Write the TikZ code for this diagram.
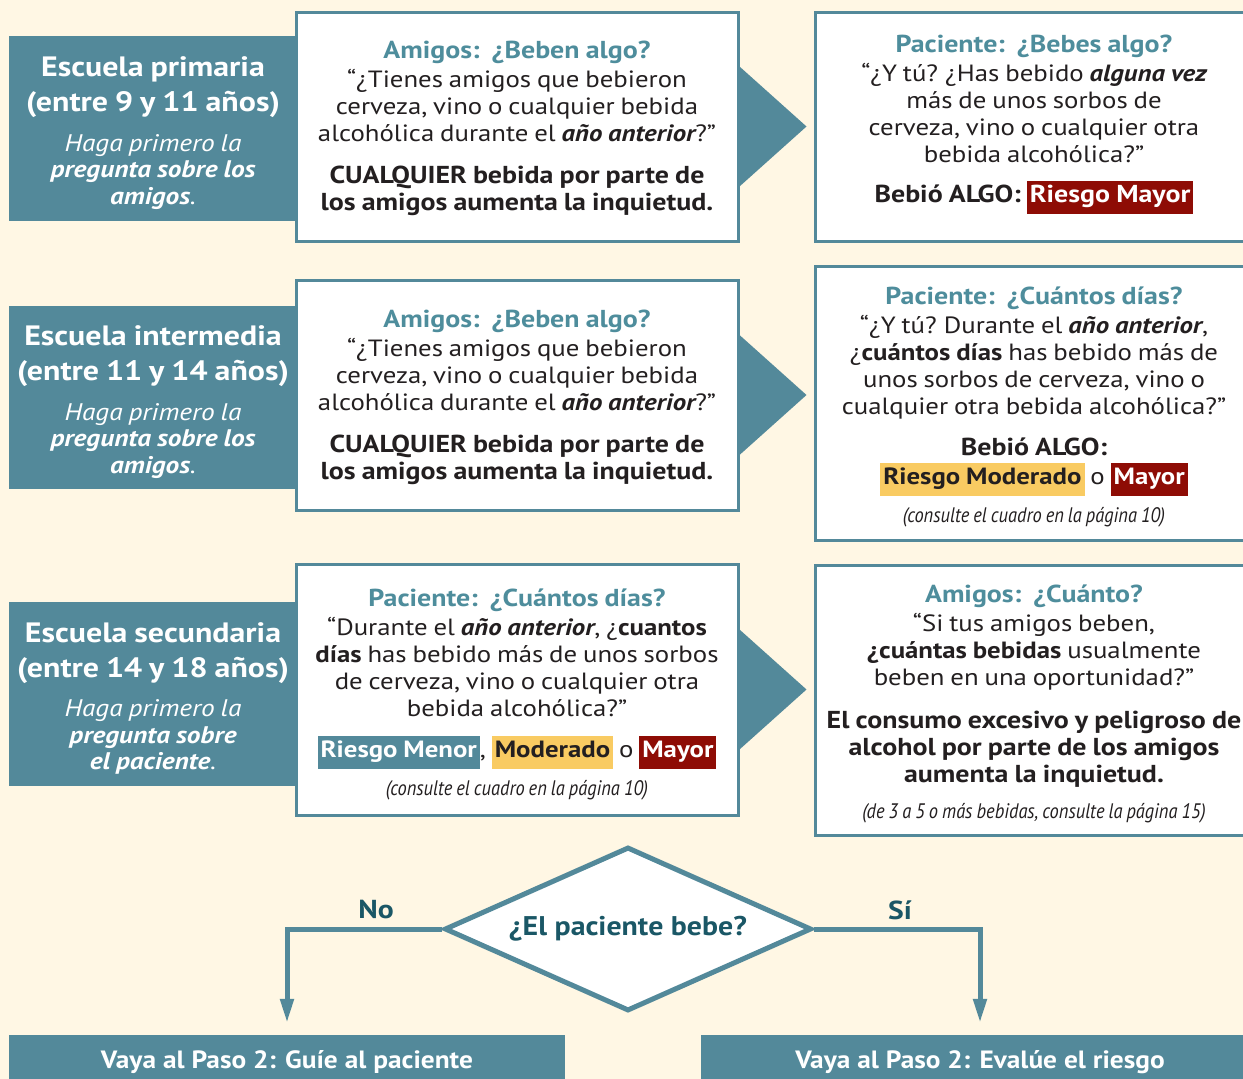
\documentclass[tikz,border=0pt]{standalone}
\usepackage{fontspec}
\setmainfont{PT Sans}[FakeStretch=1.14]
\usepackage{graphicx}
\usetikzlibrary{shapes.geometric,arrows.meta}
\definecolor{bgc}{RGB}{255,247,228}
\definecolor{tealc}{RGB}{83,137,154}
\definecolor{ttlc}{RGB}{78,141,156}
\definecolor{darkt}{RGB}{26,87,102}
\definecolor{redc}{RGB}{142,12,5}
\definecolor{yelc}{RGB}{249,203,98}
\definecolor{txtc}{RGB}{35,31,32}
\newcommand\sps{\spaceskip=0.25em\relax\xspaceskip=0.3em\relax}
\newcommand\hfnt{\fontsize{28}{35}\selectfont\bfseries\sps}
\newcommand\ifnt{\fontsize{24}{26.5}\selectfont\itshape\sps}
\newcommand\tfnt{\fontsize{24.5}{29}\selectfont\bfseries\color{ttlc}\sps}
\newcommand\bfnt{\fontsize{23.5}{27}\selectfont\sps}
\newcommand\bbfnt{\fontsize{24.5}{27}\selectfont\bfseries\sps}
\newcommand\bi[1]{{\bfseries\itshape #1}}
\newcommand\hlred[1]{{\setlength\fboxsep{3pt}\colorbox{redc}{\strut\textcolor{white}{\bfseries\sps #1}}}}
\newcommand\hlyel[1]{{\setlength\fboxsep{3pt}\colorbox{yelc}{\strut\textcolor{txtc}{\bfseries\sps #1}}}}
\newcommand\hlteal[1]{{\setlength\fboxsep{3pt}\colorbox{tealc}{\strut\textcolor{white}{\bfseries\sps #1}}}}
\newcommand\condit[1]{{\fontsize{21}{24}\selectfont\scalebox{0.77}[1]{\itshape\sps #1}\par}}
\tikzset{
  tealbox/.style={fill=tealc, draw=none, minimum width=288pt, inner sep=0pt},
  whitebox/.style={fill=white, draw=tealc, line width=3pt, minimum width=442pt, inner sep=0pt},
  rightbox/.style={fill=white, draw=tealc, line width=3pt, minimum width=438pt, inner sep=0pt},
  tealtext/.style={inner sep=0pt, text=white, text width=284pt, align=center},
  whitetext/.style={inner sep=0pt, text=txtc, text width=436pt, align=center},
  righttext/.style={inner sep=0pt, text=txtc, text width=430pt, align=center},
  pointer/.style={fill=tealc},
  conn/.style={draw=tealc, line width=5pt, -{Triangle[length=24pt,width=13pt]}},
  lbl/.style={text=darkt, font=\fontsize{26}{30}\selectfont\bfseries},
  endbox/.style={fill=tealc, draw=none, minimum height=54pt, inner sep=0pt, text=white, font=\fontsize{25}{30}\selectfont\bfseries}
}
\begin{document}
\begin{tikzpicture}[x=1pt,y=-1pt]
\useasboundingbox (0,0) rectangle (1243,1079);
\fill[bgc] (0,0) rectangle (1243,1079);
\clip (0,0) rectangle (1243,1079);

% Boxes
\node[tealbox, minimum height=185pt] (t1) at (153,128.5) {};
\node[whitebox, minimum height=229pt] (w1) at (517,126.5) {};
\node[rightbox, minimum height=229pt] (r1) at (1034,126.5) {};
\node[tealbox, minimum height=183pt] (t2) at (153,397.5) {};
\node[whitebox, minimum height=230pt] (w2) at (517,395) {};
\node[rightbox, minimum height=274pt] (r2) at (1034,403) {};
\node[tealbox, minimum height=184pt] (t3) at (153,694) {};
\node[whitebox, minimum height=251pt] (w3) at (517,689.5) {};
\node[rightbox, minimum height=270pt] (r3) at (1034,700) {};
\fill[pointer] ([yshift=60pt]w1.east) -- ([xshift=67pt]w1.east) -- ([yshift=-60pt]w1.east) -- cycle;
\fill[pointer] ([yshift=60pt]w2.east) -- ([xshift=67pt]w2.east) -- ([yshift=-60pt]w2.east) -- cycle;
\fill[pointer] ([yshift=60pt]w3.east) -- ([xshift=67pt]w3.east) -- ([yshift=-60pt]w3.east) -- cycle;

% Row 1 text
\node[tealtext] (t1x) at ([yshift=-4.5pt]t1.center) {{\hfnt Escuela primaria\\(entre 9 y 11 años)\par}\vspace{13pt}{\ifnt Haga primero la\\ \textbf{pregunta sobre los}\\ \textbf{amigos}.\par}};
\node[whitetext] (w1x) at ([yshift=-2pt]w1.center) {{\tfnt Amigos:\ \ ¿Beben algo?\par}\vspace{2pt}{\bfnt “¿Tienes amigos que bebieron\\ cerveza, vino o cualquier bebida\\ alcohólica durante el \bi{año anterior}?”\par}\vspace{15pt}{\bbfnt CUALQUIER bebida por parte de\\ los amigos aumenta la inquietud.\par}};
\node[righttext] (r1x) at ([yshift=2pt]r1.center) {{\tfnt Paciente:\ \ ¿Bebes algo?\par}\vspace{2pt}{\bfnt “¿Y tú? ¿Has bebido \bi{alguna vez}\\ más de unos sorbos de\\ cerveza, vino o cualquier otra\\ bebida alcohólica?”\par}\vspace{13pt}{\bbfnt Bebió ALGO: \hlred{Riesgo Mayor}\par}};

% Row 2 text
\node[tealtext] (t2x) at ([yshift=-4.5pt]t2.center) {{\hfnt Escuela intermedia\\(entre 11 y 14 años)\par}\vspace{13pt}{\ifnt Haga primero la\\ \textbf{pregunta sobre los}\\ \textbf{amigos}.\par}};
\node[whitetext] (w2x) at ([yshift=-2pt]w2.center) {{\tfnt Amigos:\ \ ¿Beben algo?\par}\vspace{2pt}{\bfnt “¿Tienes amigos que bebieron\\ cerveza, vino o cualquier bebida\\ alcohólica durante el \bi{año anterior}?”\par}\vspace{15pt}{\bbfnt CUALQUIER bebida por parte de\\ los amigos aumenta la inquietud.\par}};
\node[righttext] (r2x) at ([yshift=-4pt]r2.center) {{\tfnt Paciente:\ \ ¿Cuántos días?\par}\vspace{2pt}{\bfnt “¿Y tú? Durante el \bi{año anterior},\\ ¿\textbf{cuántos días} has bebido más de\\ unos sorbos de cerveza, vino o\\ cualquier otra bebida alcohólica?”\par}\vspace{14pt}{\bbfnt Bebió ALGO:\par}\vspace{2pt}{\bfnt \hlyel{Riesgo Moderado} o \hlred{Mayor}\par}\vspace{10pt}\condit{(consulte el cuadro en la página 10)}};

% Row 3 text
\node[tealtext] (t3x) at ([yshift=-4.5pt]t3.center) {{\hfnt Escuela secundaria\\(entre 14 y 18 años)\par}\vspace{13pt}{\ifnt Haga primero la\\ \textbf{pregunta sobre}\\ \textbf{el paciente}.\par}};
\node[whitetext] (w3x) at ([yshift=-5pt]w3.center) {{\tfnt Paciente:\ \ ¿Cuántos días?\par}\vspace{2pt}{\bfnt “Durante el \bi{año anterior}, ¿\textbf{cuantos}\\ \textbf{días} has bebido más de unos sorbos\\ de cerveza, vino o cualquier otra\\ bebida alcohólica?”\par}\vspace{14pt}{\bfnt \hlteal{Riesgo Menor}, \hlyel{Moderado} o \hlred{Mayor}\par}\vspace{10pt}\condit{(consulte el cuadro en la página 10)}};
\node[righttext] (r3x) at ([yshift=-4pt]r3.center) {{\tfnt Amigos:\ \ ¿Cuánto?\par}\vspace{2pt}{\bfnt “Si tus amigos beben,\\ \textbf{¿cuántas bebidas} usualmente\\ beben en una oportunidad?”\par}\vspace{16pt}{\bbfnt El consumo excesivo y peligroso de\\ alcohol por parte de los amigos\\ aumenta la inquietud.\par}\vspace{12pt}\condit{(de 3 a 5 o más bebidas, consulte la página 15)}};

% Decision
\node[diamond, draw=tealc, line width=5pt, fill=white, minimum width=367pt, minimum height=164pt, aspect=2.24, inner sep=0pt, text=darkt] (dia) at (628,929) {\fontsize{27}{30}\selectfont\bfseries\scalebox{0.97}[1]{¿El paciente bebe?}};
\node[endbox, minimum width=556pt] (bl) at (287,1062) {\scalebox{0.96}[1]{Vaya al Paso 2: Guíe al paciente}};
\node[endbox, minimum width=558pt] (br) at (980,1062) {\scalebox{0.96}[1]{Vaya al Paso 2: Evalúe el riesgo}};
\draw[conn] (dia.west) -| ([yshift=12pt]bl.north);
\draw[conn] (dia.east) -| ([yshift=12pt]br.north);
\node[lbl] (no) at (376,910) {No};
\node[lbl] (si) at (900,910) {Sí};
\end{tikzpicture}
\end{document}
